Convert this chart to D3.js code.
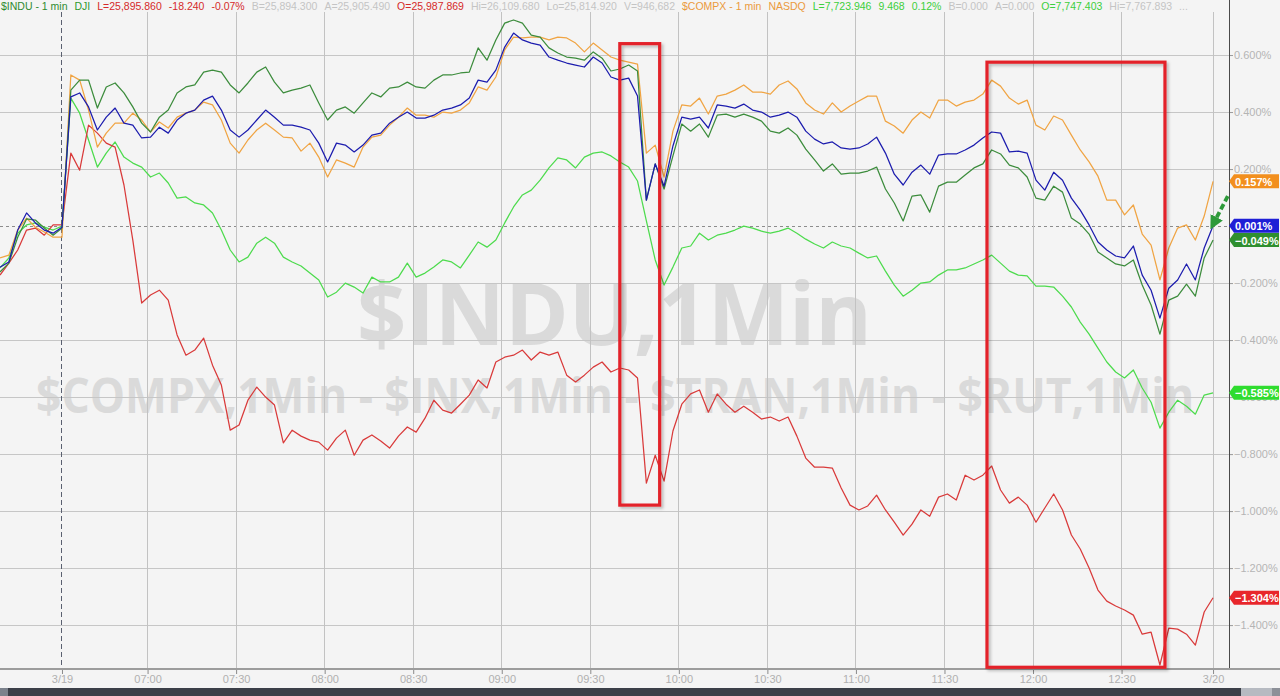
<!DOCTYPE html>
<html><head><meta charset="utf-8">
<script src="https://cdn.jsdelivr.net/npm/d3@7"></script>
<style>
html,body{margin:0;padding:0;background:#f4f4f4;overflow:hidden}
svg{display:block}
</style></head><body>
<svg id="chart" width="1280" height="696"></svg>
<script>
// ---- time grid (minutes after midnight, 1 sample every 3 min) ----
const startMinute = 370;   // 06:10
const stepMinutes = 3;

// ---- series values (% change) ----
const indu = [-0.144,-0.126,-0.014,0.046,0.011,-0.014,-0.025,-0.004,0.453,0.467,0.418,0.337,0.382,0.414,0.361,0.354,0.309,0.312,0.347,0.326,
0.372,0.396,0.407,0.442,0.456,0.407,0.337,0.312,0.337,0.372,0.407,0.382,0.354,0.354,0.347,0.337,0.291,0.225,0.291,0.284,
0.260,0.284,0.319,0.326,0.361,0.382,0.400,0.379,0.379,0.389,0.407,0.414,0.425,0.449,0.512,0.505,0.547,0.628,0.677,0.653,
0.642,0.635,0.593,0.582,0.572,0.565,0.558,0.593,0.572,0.523,0.512,0.519,0.456,0.091,0.218,0.140,0.281,0.382,0.375,0.382,
0.344,0.425,0.421,0.414,0.428,0.407,0.400,0.382,0.389,0.400,0.382,0.333,0.305,0.288,0.295,0.274,0.270,0.274,0.288,0.312,
0.256,0.182,0.144,0.189,0.214,0.182,0.249,0.253,0.253,0.267,0.284,0.309,0.330,0.326,0.260,0.263,0.256,0.161,0.126,0.189,
0.161,0.098,0.056,0.004,-0.056,-0.084,-0.105,-0.112,-0.070,-0.172,-0.225,-0.323,-0.218,-0.189,-0.133,-0.189,-0.077,0.001];

const compx = [-0.112,-0.102,-0.014,0.028,-0.004,-0.021,-0.039,-0.039,0.530,0.512,0.407,0.277,0.326,0.361,0.361,0.396,0.372,0.330,0.365,0.344,
0.382,0.396,0.407,0.435,0.425,0.372,0.291,0.256,0.302,0.337,0.361,0.337,0.312,0.309,0.263,0.291,0.242,0.172,0.232,0.221,
0.207,0.277,0.312,0.319,0.354,0.382,0.414,0.389,0.389,0.382,0.400,0.396,0.407,0.432,0.488,0.477,0.523,0.618,0.663,0.660,
0.663,0.663,0.653,0.663,0.660,0.642,0.611,0.642,0.618,0.593,0.582,0.575,0.568,0.256,0.284,0.172,0.333,0.425,0.421,0.449,
0.393,0.456,0.463,0.477,0.495,0.470,0.470,0.463,0.495,0.509,0.481,0.432,0.407,0.393,0.432,0.400,0.421,0.439,0.456,0.456,
0.368,0.351,0.326,0.372,0.400,0.379,0.442,0.442,0.421,0.435,0.442,0.463,0.512,0.491,0.449,0.428,0.442,0.354,0.337,0.386,
0.372,0.319,0.267,0.225,0.175,0.091,0.091,0.039,0.074,-0.028,-0.067,-0.189,-0.077,-0.007,0.004,-0.049,0.035,0.157];

const inx = [-0.161,-0.130,-0.039,0.025,0.021,-0.007,-0.032,-0.007,0.477,0.512,0.512,0.414,0.488,0.502,0.467,0.418,0.361,0.330,0.382,0.407,
0.467,0.488,0.495,0.540,0.547,0.540,0.495,0.467,0.502,0.540,0.558,0.505,0.467,0.477,0.484,0.495,0.432,0.372,0.407,0.418,
0.396,0.432,0.467,0.453,0.484,0.488,0.505,0.488,0.484,0.512,0.530,0.530,0.537,0.540,0.625,0.582,0.653,0.712,0.723,0.712,
0.670,0.663,0.625,0.607,0.593,0.589,0.582,0.611,0.589,0.544,0.551,0.565,0.544,0.091,0.218,0.130,0.246,0.358,0.333,0.358,
0.312,0.389,0.393,0.382,0.393,0.382,0.368,0.333,0.326,0.344,0.319,0.270,0.232,0.193,0.218,0.182,0.186,0.186,0.193,0.207,
0.130,0.081,0.018,0.105,0.109,0.049,0.140,0.154,0.154,0.179,0.204,0.218,0.267,0.253,0.214,0.204,0.172,0.098,0.091,0.140,
0.119,0.028,0.007,-0.028,-0.091,-0.112,-0.133,-0.140,-0.119,-0.207,-0.277,-0.379,-0.260,-0.246,-0.204,-0.246,-0.112,-0.049];

const rut = [-0.147,-0.112,-0.025,0.004,0.011,-0.004,-0.014,0.000,0.449,0.396,0.302,0.207,0.256,0.295,0.242,0.221,0.207,0.172,0.186,0.151,
0.098,0.102,0.081,0.074,0.046,-0.014,-0.084,-0.126,-0.109,-0.060,-0.039,-0.060,-0.109,-0.126,-0.140,-0.165,-0.189,-0.249,-0.232,-0.200,
-0.214,-0.235,-0.179,-0.196,-0.196,-0.179,-0.130,-0.179,-0.165,-0.144,-0.119,-0.126,-0.147,-0.102,-0.056,-0.074,-0.049,0.011,0.067,0.109,
0.126,0.161,0.204,0.239,0.232,0.204,0.242,0.256,0.260,0.246,0.225,0.207,0.158,0.018,-0.119,-0.207,-0.144,-0.077,-0.070,-0.025,
-0.049,-0.032,-0.025,-0.014,0.000,-0.007,-0.018,-0.025,-0.018,-0.007,-0.025,-0.046,-0.063,-0.077,-0.056,-0.070,-0.077,-0.095,-0.112,-0.105,
-0.158,-0.207,-0.246,-0.225,-0.200,-0.196,-0.172,-0.154,-0.154,-0.147,-0.133,-0.119,-0.102,-0.130,-0.158,-0.172,-0.175,-0.211,-0.211,-0.214,
-0.246,-0.284,-0.337,-0.379,-0.428,-0.477,-0.512,-0.533,-0.505,-0.568,-0.618,-0.709,-0.653,-0.611,-0.632,-0.660,-0.593,-0.585];

const tran = [-0.172,-0.130,-0.084,-0.014,-0.007,-0.032,0.004,0.004,0.256,0.196,0.354,0.326,0.291,0.277,0.144,-0.049,-0.270,-0.242,-0.225,-0.260,
-0.382,-0.453,-0.435,-0.393,-0.488,-0.558,-0.716,-0.698,-0.611,-0.565,-0.600,-0.628,-0.761,-0.716,-0.737,-0.751,-0.758,-0.786,-0.744,-0.716,
-0.804,-0.751,-0.733,-0.754,-0.779,-0.737,-0.705,-0.723,-0.674,-0.611,-0.646,-0.656,-0.625,-0.593,-0.540,-0.568,-0.477,-0.460,-0.453,-0.435,
-0.470,-0.442,-0.453,-0.442,-0.523,-0.547,-0.523,-0.495,-0.477,-0.512,-0.498,-0.505,-0.533,-0.902,-0.804,-0.895,-0.719,-0.625,-0.589,-0.575,
-0.653,-0.589,-0.625,-0.653,-0.632,-0.653,-0.677,-0.670,-0.684,-0.670,-0.737,-0.814,-0.846,-0.846,-0.849,-0.919,-0.979,-0.996,-0.982,-0.944,
-0.996,-1.039,-1.084,-1.046,-0.996,-1.018,-0.951,-0.940,-0.961,-0.874,-0.891,-0.874,-0.842,-0.926,-0.972,-0.951,-0.979,-1.039,-0.989,-0.940,
-0.996,-1.084,-1.133,-1.200,-1.277,-1.316,-1.333,-1.347,-1.365,-1.432,-1.425,-1.540,-1.411,-1.414,-1.432,-1.470,-1.354,-1.304];

// ---- axes ----
const xTickMinutes = [391,420,450,480,510,540,570,600,630,660,690,720,750,781];
const xTickLabels  = ["3/19","07:00","07:30","08:00","08:30","09:00","09:30","10:00","10:30","11:00","11:30","12:00","12:30","3/20"];
const yTickValues  = [0.6,0.4,0.2,0,-0.2,-0.4,-0.6,-0.8,-1.0,-1.2,-1.4];

// ---- header legend ----
const headerItems = [
  {t:"$INDU - 1 min", c:"#2f8a2f"},{t:"DJI", c:"#2f9a2f"},
  {t:"L=25,895.860", c:"#d42a2a"},{t:"-18.240", c:"#d42a2a"},{t:"-0.07%", c:"#d42a2a"},
  {t:"B=25,894.300", c:"#c4c4c4"},{t:"A=25,905.490", c:"#c4c4c4"},{t:"O=25,987.869", c:"#d42a2a"},
  {t:"Hi=26,109.680", c:"#c4c4c4"},{t:"Lo=25,814.920", c:"#c4c4c4"},{t:"V=946,682", c:"#c4c4c4"},
  {t:"$COMPX - 1 min", c:"#eb9a3c"},{t:"NASDQ", c:"#eb9a3c"},
  {t:"L=7,723.946", c:"#3ccf3c"},{t:"9.468", c:"#3ccf3c"},{t:"0.12%", c:"#3ccf3c"},
  {t:"B=0.000", c:"#c4c4c4"},{t:"A=0.000", c:"#c4c4c4"},{t:"O=7,747.403", c:"#3ccf3c"},
  {t:"Hi=7,767.893", c:"#c4c4c4"},{t:"...", c:"#c4c4c4"}
];

// ---- watermark texts ----
const watermarkMain = "$INDU,1Min";
const watermarkSub  = "$COMPX,1Min - $INX,1Min - $TRAN,1Min - $RUT,1Min";

// ---- annotations (data units) ----
const boxes = [{t0:580.0, t1:593.5, v0:0.640, v1:-0.979},{t0:704.4, t1:764.7, v0:0.575, v1:-1.548}];
const arrowPts = {t0:786.0, v0:0.105, t1:781.6, v1:0.018};

const series = [
  {name:"RUT",  data:rut,   color:"#4ddb4d", tag:"#2fdc2f"},
  {name:"TRAN", data:tran,  color:"#d93a3a", tag:"#e8262b"},
  {name:"COMPX",data:compx, color:"#f0a443", tag:"#f28f1e"},
  {name:"INX",  data:inx,   color:"#3c8c3c", tag:"#2f8f2f"},
  {name:"INDU", data:indu,  color:"#1c1cae", tag:"#1f1fd6"}
];

const W=1280, H=696, plotR=1229, plotT=12, plotB=669;
const svg = d3.select("#chart");
const x = d3.scaleLinear().domain([370, 786.4]).range([0, plotR]);
const y = d3.scaleLinear().domain([-1.554, 0.751]).range([plotB, plotT]);
const fmtPct = v => d3.format(".3f")(v) + "%";

svg.append("rect").attr("width",W).attr("height",H).attr("fill","#f4f4f4");

// watermarks (centred at ~09:38)
svg.append("text").attr("x",x(578.2)).attr("y",345).attr("text-anchor","middle")
  .attr("font-family","Open Sans, Liberation Sans, sans-serif").attr("font-weight",700)
  .attr("font-size",86).attr("fill","#dadada")
  .attr("textLength",515).attr("lengthAdjust","spacingAndGlyphs").text(watermarkMain);
svg.append("text").attr("x",x(578.4)).attr("y",413).attr("text-anchor","middle")
  .attr("font-family","Open Sans, Liberation Sans, sans-serif").attr("font-weight",700)
  .attr("font-size",48).attr("fill","#dadada")
  .attr("textLength",1158).attr("lengthAdjust","spacingAndGlyphs")
  .text(watermarkSub);

// grid
const g = svg.append("g");
g.selectAll("line.hg").data(yTickValues.filter(v=>v!==0)).join("line")
  .attr("x1",0).attr("x2",plotR).attr("y1",d=>y(d)).attr("y2",d=>y(d))
  .attr("stroke","#c6c6c6").attr("stroke-width",1).attr("shape-rendering","crispEdges");
g.append("line").attr("x1",0).attr("x2",plotR).attr("y1",y(0)).attr("y2",y(0))
  .attr("stroke","#8c8c8c").attr("stroke-dasharray","3,3").attr("shape-rendering","crispEdges");
g.selectAll("line.vg").data(xTickMinutes.slice(1)).join("line")
  .attr("x1",d=>x(d)).attr("x2",d=>x(d)).attr("y1",plotT).attr("y2",plotB)
  .attr("stroke","#c2c2c2").attr("stroke-width",1).attr("shape-rendering","crispEdges");
g.append("line").attr("x1",x(xTickMinutes[0])).attr("x2",x(xTickMinutes[0])).attr("y1",plotT).attr("y2",plotB)
  .attr("stroke","#5a6070").attr("stroke-dasharray","5,3").attr("shape-rendering","crispEdges");

// right axis
const yAxis = d3.axisRight(y).tickValues(yTickValues).tickSize(4).tickFormat(fmtPct);
const ya = svg.append("g").attr("transform",`translate(${plotR},0)`).call(yAxis);
ya.select(".domain").remove();
ya.selectAll(".tick line").attr("stroke","#9a9a9a");
ya.selectAll(".tick text").attr("fill","#b4b4b4").attr("font-size",11).attr("x",5)
  .attr("font-family","Liberation Sans, Arial, sans-serif");
svg.append("line").attr("x1",plotR).attr("x2",plotR).attr("y1",0).attr("y2",plotB)
  .attr("stroke","#4a4a4a").attr("shape-rendering","crispEdges");

// bottom axis
const xAxis = d3.axisBottom(x).tickValues(xTickMinutes).tickSize(5)
  .tickFormat((d,i)=>xTickLabels[i]);
const xa = svg.append("g").attr("transform",`translate(0,${plotB})`).call(xAxis);
xa.select(".domain").remove();
xa.selectAll(".tick line").attr("stroke","#8a8a8a");
xa.selectAll(".tick text").attr("fill","#b0b0b0").attr("font-size",11).attr("dy","0.55em")
  .attr("font-family","Liberation Sans, Arial, sans-serif");
svg.append("line").attr("x1",0).attr("x2",W).attr("y1",plotB).attr("y2",plotB)
  .attr("stroke","#9c9c9c").attr("stroke-width",2);

// lines
const line = d3.line().x((d,i)=>x(startMinute + i*stepMinutes)).y(d=>y(d));
svg.append("g").selectAll("path").data(series).join("path")
  .attr("d",d=>line(d.data)).attr("fill","none").attr("stroke",d=>d.color)
  .attr("stroke-width",1.25).attr("stroke-linejoin","round");

// red annotation boxes
const defs = svg.append("defs");
const f = defs.append("filter").attr("id","sh").attr("x","-10%").attr("y","-10%").attr("width","130%").attr("height","130%");
f.append("feDropShadow").attr("dx",2).attr("dy",2).attr("stdDeviation",1.5).attr("flood-color","#000").attr("flood-opacity",0.25);
svg.append("g").selectAll("rect").data(boxes).join("rect")
  .attr("x",d=>x(d.t0)).attr("y",d=>y(d.v0))
  .attr("width",d=>x(d.t1)-x(d.t0)).attr("height",d=>y(d.v1)-y(d.v0))
  .attr("fill","none").attr("stroke","#e3232a").attr("stroke-width",3.2).attr("filter","url(#sh)");

// green dashed arrow
defs.append("marker").attr("id","ah").attr("viewBox","0 0 10 10").attr("refX",3).attr("refY",5)
  .attr("markerWidth",3.6).attr("markerHeight",3.6).attr("orient","auto")
  .append("path").attr("d","M0,0 L10,5 L0,10 Z").attr("fill","#2e9a3a");
svg.append("line").attr("x1",x(arrowPts.t0)).attr("y1",y(arrowPts.v0))
  .attr("x2",x(arrowPts.t1)).attr("y2",y(arrowPts.v1))
  .attr("stroke","#2e9a3a").attr("stroke-width",3.8).attr("stroke-dasharray","6,3")
  .attr("marker-end","url(#ah)");

// end tags
const tags = svg.append("g").selectAll("g").data(series).join("g")
  .attr("transform",d=>`translate(${plotR},${y(d.data[d.data.length-1])})`);
tags.append("path").attr("d","M0,0 L5,-7 L50,-7 L50,7 L5,7 Z").attr("fill",d=>d.tag);
tags.append("text").attr("x",6).attr("y",4.5).attr("fill","#fff").attr("font-size",11).attr("font-weight",700)
  .attr("font-family","Liberation Sans, Arial, sans-serif")
  .text(d=>fmtPct(d.data[d.data.length-1]));

// bottom scroll bar
svg.append("rect").attr("x",0).attr("y",688).attr("width",W).attr("height",8).attr("fill","#3b3f48");
svg.append("rect").attr("x",0).attr("y",688).attr("width",8).attr("height",8).attr("fill","#7c828c");
svg.append("rect").attr("x",1241).attr("y",688).attr("width",31).attr("height",8).attr("fill","#b6bac1");
svg.append("rect").attr("x",1272).attr("y",688).attr("width",8).attr("height",8).attr("fill","#8c9098");

// header
const hdr = svg.append("g");
let hx = 1;
headerItems.forEach(it=>{
  const t = hdr.append("text").attr("x",hx).attr("y",10).attr("fill",it.c)
    .attr("font-size",10.5).attr("font-family","Liberation Sans, Arial, sans-serif").text(it.t);
  hx += t.node().getComputedTextLength() + 7;
});
</script>
</body></html>
